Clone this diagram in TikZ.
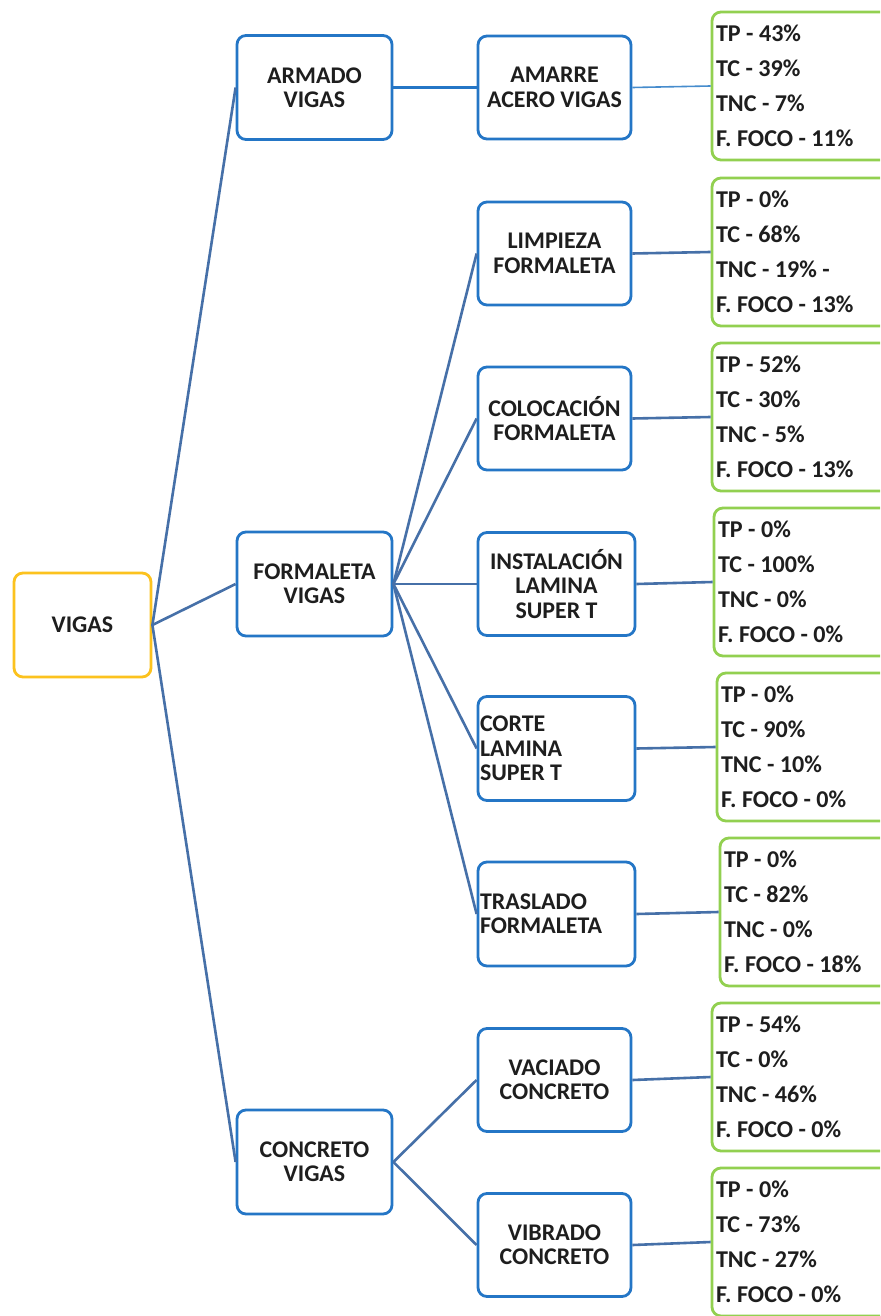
\documentclass[tikz,border=0pt]{standalone}
\usepackage{fontspec}
\setmainfont{Carlito}
\definecolor{boxblue}{RGB}{36,118,198}
\definecolor{rootyellow}{RGB}{252,194,30}
\definecolor{leafgreen}{RGB}{146,208,80}
\definecolor{linkblue}{RGB}{70,112,168}
\definecolor{lightlink}{RGB}{70,140,205}
\definecolor{ink}{RGB}{30,30,30}
\begin{document}
\begin{tikzpicture}[x=1bp,y=-1bp,
  base/.style={draw, rounded corners=9bp, line width=2.8bp, fill=white,
    text=ink, font={\bfseries\fontsize{24}{24.5}\selectfont}, inner sep=2bp},
  rootbox/.style={base, draw=rootyellow, minimum width=137bp, minimum height=104bp},
  taskbox/.style={base, draw=boxblue, minimum width=155bp, minimum height=104bp, align=center},
  subbox/.style={base, draw=boxblue, minimum width=153bp, minimum height=103bp, align=center},
  subleft/.style={base, draw=boxblue, minimum width=157bp, minimum height=104bp,
    text width=153bp, align=flush left},
  databox/.style={base, draw=leafgreen, minimum width=185bp, minimum height=148bp,
    text width=177bp, inner xsep=4bp, align=flush left,
    font={\bfseries\fontsize{24.2}{35}\selectfont}},
  link/.style={draw=linkblue, line width=2.6bp},
  thinlink/.style={draw=lightlink, line width=1.6bp}
]
\clip (0,0) rectangle (880,1316);
\fill[white] (0,0) rectangle (880,1316);

% root and first level
\node[rootbox] (vigas) at (82.5,625) {VIGAS};
\node[taskbox] (armado) at (314.5,87.5) {ARMADO\\VIGAS};
\node[taskbox] (formaleta) at (314.5,584) {FORMALETA\\VIGAS};
\node[taskbox] (concreto) at (314.5,1162) {CONCRETO\\VIGAS};

% second level
\node[subbox] (amarre) at (554.5,87.5) {AMARRE\\ACERO VIGAS};
\node[subbox] (limpieza) at (554.5,253.5) {LIMPIEZA\\FORMALETA};
\node[subbox] (colocacion) at (554.5,418.5) {COLOCACIÓN\\FORMALETA};
\node[subbox, minimum width=157bp] (instalacion) at (556.5,584) {INSTALACIÓN\\LAMINA\\SUPER T};
\node[subleft] (corte) at (556.5,748.5) {CORTE\\LAMINA\\SUPER T};
\node[subleft] (traslado) at (556.5,914) {TRASLADO\\FORMALETA};
\node[subbox] (vaciado) at (554.5,1080) {VACIADO\\CONCRETO};
\node[subbox] (vibrado) at (554.5,1245) {VIBRADO\\CONCRETO};

% percentage boxes
\node[databox] (d1) at (804.5,86) {TP - 43\%\\TC - 39\%\\TNC - 7\%\\F. FOCO - 11\%};
\node[databox] (d2) at (804.5,252) {TP - 0\%\\TC - 68\%\\TNC - 19\% -\\F. FOCO - 13\%};
\node[databox] (d3) at (804.5,417) {TP - 52\%\\TC - 30\%\\TNC - 5\%\\F. FOCO - 13\%};
\node[databox] (d4) at (806.5,582) {TP - 0\%\\TC - 100\%\\TNC - 0\%\\F. FOCO - 0\%};
\node[databox] (d5) at (809.5,747) {TP - 0\%\\TC - 90\%\\TNC - 10\%\\F. FOCO - 0\%};
\node[databox] (d6) at (812.5,912) {TP - 0\%\\TC - 82\%\\TNC - 0\%\\F. FOCO - 18\%};
\node[databox] (d7) at (804.5,1077) {TP - 54\%\\TC - 0\%\\TNC - 46\%\\F. FOCO - 0\%};
\node[databox] (d8) at (804.5,1242) {TP - 0\%\\TC - 73\%\\TNC - 27\%\\F. FOCO - 0\%};

% connectors
\draw[link] (vigas.east) -- (armado.west);
\draw[link] (vigas.east) -- (formaleta.west);
\draw[link] (vigas.east) -- (concreto.west);
\draw[link, draw=boxblue] (armado.east) -- (amarre.west);
\foreach \t in {limpieza,colocacion,instalacion,corte,traslado}
  \draw[link] (formaleta.east) -- (\t.west);
\draw[link] (concreto.east) -- (vaciado.west);
\draw[link] (concreto.east) -- (vibrado.west);
\draw[thinlink] (amarre.east) -- (d1.west);
\draw[link] (limpieza.east) -- (d2.west);
\draw[link] (colocacion.east) -- (d3.west);
\draw[link] (instalacion.east) -- (d4.west);
\draw[link] (corte.east) -- (d5.west);
\draw[link] (traslado.east) -- (d6.west);
\draw[link] (vaciado.east) -- (d7.west);
\draw[link] (vibrado.east) -- (d8.west);
\end{tikzpicture}
\end{document}
